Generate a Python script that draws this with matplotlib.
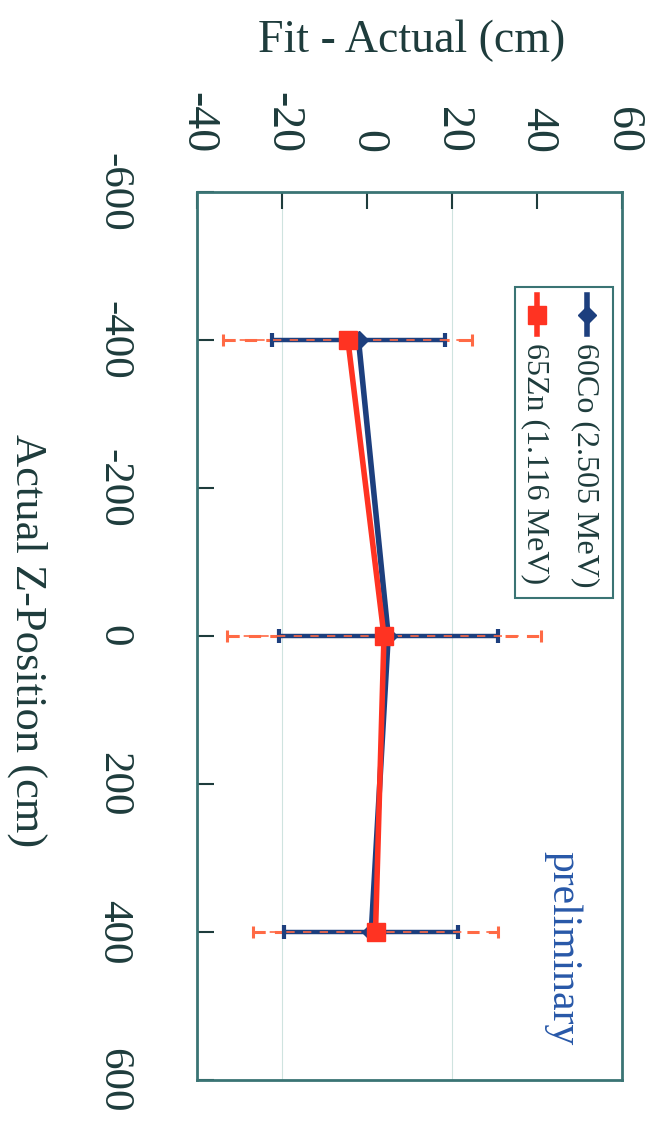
import matplotlib
matplotlib.use("Agg")
import matplotlib.pyplot as plt
from matplotlib.lines import Line2D
from matplotlib.patches import Rectangle

plt.rcParams['font.family'] = ['Liberation Serif', 'DejaVu Serif']

# Data
z_pos = [-400, 0, 400]
co60_vals = [-2.0, 5.0, 1.0]
co60_err = [20.3, 25.8, 20.5]
zn65_vals = [-4.5, 4.0, 2.0]
zn65_err = [29.3, 37.0, 28.8]
co60_label = "60Co (2.505 MeV)"
zn65_label = "65Zn (1.116 MeV)"
fit_ticks = [-40, -20, 0, 20, 40, 60]
z_ticks = [-600, -400, -200, 0, 200, 400, 600]
grid_vals = [-20, 20]

text_col = '#1e3c3c'
frame_col = '#3a7474'
blue = '#1d3f7e'
red = '#ff3322'
red_err = '#ff6a45'

fig = plt.figure(figsize=(6.53, 11.31), dpi=100)
ax = fig.add_axes([197/653, (1131-1080)/1131, (622-197)/653, (1080-192)/1131])

for g in grid_vals:
    ax.axvline(g, color='#cfe3df', lw=0.8, zorder=0)

e2 = ax.errorbar(zn65_vals, z_pos, xerr=zn65_err, fmt='none', ecolor=red_err,
                 elinewidth=2.2, capsize=4, capthick=2.2, zorder=2)
for lc in e2[2]:
    lc.set_linestyle((0, (4, 3)))
e1 = ax.errorbar(co60_vals, z_pos, xerr=co60_err, fmt='none', ecolor=blue,
                 elinewidth=3.2, capsize=5, capthick=3, zorder=3)
e2b = ax.errorbar(zn65_vals, z_pos, xerr=zn65_err, fmt='none', ecolor=red_err,
                  elinewidth=1.2, capsize=0, zorder=4)
for lc in e2b[2]:
    lc.set_linestyle((0, (5, 5)))

ax.plot(co60_vals, z_pos, color=blue, lw=4, marker='D', ms=9, zorder=5)
ax.plot(zn65_vals, z_pos, color=red, lw=4, marker='s', ms=13, zorder=6)

ax.set_xlim(-40, 60)
ax.set_ylim(600, -600)

ax.xaxis.tick_top()
ax.set_xticks(fit_ticks)
ax.set_xticklabels([str(t) for t in fit_ticks], rotation=-90, fontsize=33,
                   color=text_col, va='bottom', ha='center')
ax.set_yticks(z_ticks)
ax.set_yticklabels([str(t) for t in z_ticks], rotation=-90, fontsize=31,
                   color=text_col, va='center', ha='right')
ax.tick_params(axis='x', direction='in', length=12, width=1.5, color=text_col, pad=28,
               top=True, bottom=False)
ax.tick_params(axis='y', direction='in', length=12, width=1.5, color=text_col, pad=46,
               left=True, right=False)
for s in ax.spines.values():
    s.set_color(frame_col)
    s.set_linewidth(2)

ax.xaxis.set_label_position('top')
ax.set_xlabel("Fit - Actual (cm)", fontsize=33, color=text_col)
ax.xaxis.set_label_coords(0.506, 1.17)
ax.xaxis.label.set_va('center')
ax.set_ylabel("Actual Z-Position (cm)", fontsize=32, color=text_col, rotation=-90,
              va='center', ha='center')
ax.yaxis.set_label_coords(-0.40, 0.495)

ax.text(0.86, 0.149, "preliminary", transform=ax.transAxes, rotation=-90,
        fontsize=30, color='#2858a8', ha='center', va='center')

# Rotated legend (drawn manually, since the whole chart is rotated)
T = ax.transAxes
ax.add_patch(Rectangle((0.748, 0.543), 0.231, 0.350, transform=T, fill=True,
                       facecolor='white', edgecolor=frame_col, lw=1.5, zorder=8))
legend_entries = [(co60_label, blue, 'D', 9, 0.918),
                  (zn65_label, red, 's', 13, 0.800)]
for label, col, mk, ms, xa in legend_entries:
    ax.add_line(Line2D([xa, xa], [0.884, 0.840], transform=T, color=col, lw=4,
                       zorder=9))
    ax.add_line(Line2D([xa], [0.862], transform=T, color=col, marker=mk, ms=ms,
                       zorder=10))
    ax.text(xa - 0.005, 0.830, label, transform=T, rotation=-90, fontsize=23,
            color=text_col, ha='center', va='top', zorder=10)

fig.savefig("out.png", dpi=100)
